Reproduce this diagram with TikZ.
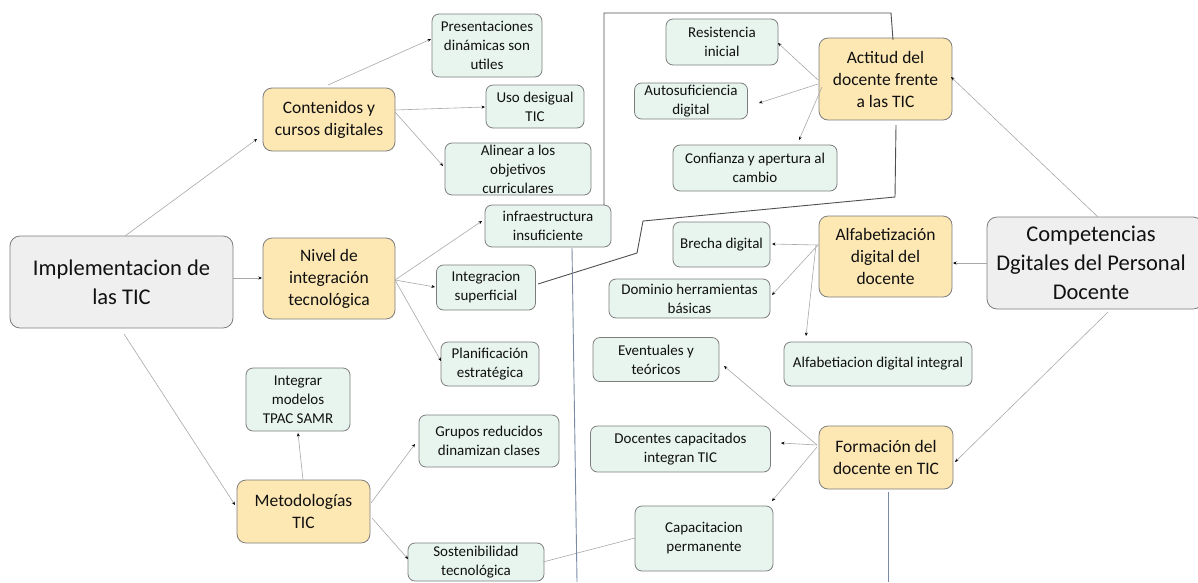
\documentclass[tikz,border=0pt]{standalone}
\usepackage{fontspec}
\setmainfont{Carlito}
\usetikzlibrary{arrows.meta,calc}
\definecolor{orfill}{HTML}{FDE7B3}
\definecolor{grfill}{HTML}{E7F5EE}
\definecolor{gyfill}{HTML}{EFEFEF}
\definecolor{bord}{HTML}{7D7D7D}
\definecolor{conn}{HTML}{A8A8A8}
\definecolor{darkconn}{HTML}{505050}
\definecolor{blueconn}{HTML}{7A8AA5}
\definecolor{txt}{HTML}{111111}
\begin{document}
\begin{tikzpicture}[x=1pt,y=-1pt,
  box/.style={draw=bord,line width=0.8pt,rounded corners=7pt,align=center,text=txt,inner sep=1pt},
  mainbox/.style={box,fill=gyfill,rounded corners=10pt,font=\fontsize{22.5}{29}\selectfont},
  catbox/.style={box,fill=orfill,rounded corners=9pt,font=\fontsize{17.5}{22}\selectfont},
  leafbox/.style={box,fill=grfill,font=\fontsize{15}{19}\selectfont},
  arr/.style={draw=conn,line width=0.6pt,-{Stealth[length=3.5pt,width=3pt,color=black]}},
  plain/.style={draw=conn,line width=0.6pt},
  frame/.style={draw=darkconn,line width=0.9pt},
  vline/.style={draw=blueconn,line width=0.9pt}]
\useasboundingbox (0,0) rectangle (1198,582);
% main nodes
\node[mainbox,minimum width=223,minimum height=92] (impl) at (121.5,282) {Implementacion de\\las TIC};
\node[mainbox,minimum width=216,minimum height=92] (comp) at (1095,263) {\hspace*{-8pt}Competencias\\\hspace*{-8pt}Dgitales del Personal\\\hspace*{-8pt}Docente};
% category nodes
\node[catbox,minimum width=132,minimum height=63] (cont) at (329,119.5) {Contenidos y\\cursos digitales};
\node[catbox,minimum width=132,minimum height=81] (nivel) at (329,278.5) {Nivel de\\integración\\tecnológica};
\node[catbox,minimum width=133,minimum height=63] (metod) at (303.5,511.5) {Metodologías\\TIC};
\node[catbox,minimum width=133,minimum height=82] (actitud) at (885.5,79) {Actitud del\\docente frente\\a las TIC};
\node[catbox,minimum width=133,minimum height=81] (alfab) at (885.5,256.5) {Alfabetización\\digital del\\docente};
\node[catbox,minimum width=134,minimum height=63] (form) at (886,457.5) {Formación del\\docente en TIC};
% leaf nodes
\node[leafbox,minimum width=104,minimum height=63] (integ) at (298,399.5) {Integrar\\modelos\\TPAC SAMR};
\node[leafbox,minimum width=110,minimum height=63] (pres) at (487,45.5) {Presentaciones\\dinámicas son\\utiles};
\node[leafbox,minimum width=98,minimum height=43] (uso) at (535,106.5) {Uso desigual\\TIC};
\node[leafbox,minimum width=146,minimum height=52] (alin) at (518,169) {Alinear a los\\objetivos\\curriculares};
\node[leafbox,minimum width=126,minimum height=42] (infra) at (548,226) {infraestructura\\insuficiente};
\node[leafbox,minimum width=99,minimum height=45] (isup) at (486,287.5) {Integracion\\superficial};
\node[leafbox,minimum width=98,minimum height=44] (plan) at (490,364) {Planificación\\estratégica};
\node[leafbox,minimum width=140,minimum height=52] (grup) at (489,441) {Grupos reducidos\\dinamizan clases};
\node[leafbox,minimum width=136,minimum height=38] (sost) at (476,562) {Sostenibilidad\\tecnológica};
\node[leafbox,minimum width=138,minimum height=65] (capac) at (704,538.5) {Capacitacion\\permanente};
\node[leafbox,minimum width=180,minimum height=46] (doc) at (680.5,449) {Docentes capacitados\\integran TIC};
\node[leafbox,minimum width=126,minimum height=44] (event) at (656,359.5) {Eventuales y\\teóricos};
\node[leafbox,minimum width=161,minimum height=39] (dom) at (689.5,298.5) {Dominio herramientas\\básicas};
\node[leafbox,minimum width=97,minimum height=45] (brecha) at (721.5,244.5) {Brecha digital};
\node[leafbox,minimum width=112,minimum height=46] (resis) at (722,42) {Resistencia\\inicial};
\node[leafbox,minimum width=113,minimum height=36] (auto) at (691,101) {Autosuficiencia\\digital};
\node[leafbox,minimum width=164,minimum height=46] (conf) at (755,168) {Confianza y apertura al\\cambio};
\node[leafbox,minimum width=188,minimum height=44] (alfint) at (878,364) {Alfabetiacion digital integral};
% free ends
\coordinate (infraend) at (577,582);
\coordinate (formend) at (888,582);
% connectors
\draw[arr] ($(impl)+(3.5,-46)$) -- ($(cont)+(-72,19.5)$);
\draw[arr] ($(impl)+(111.5,-4)$) -- ($(nivel)+(-67,-0.5)$);
\draw[arr] ($(impl)+(2.5,52)$) -- ($(metod)+(-68.5,-6.5)$);
\draw[arr] ($(cont)+(-1,-34.5)$) -- ($(pres)+(-56,-6.5)$);
\draw[arr] ($(cont)+(66,-9.5)$) -- ($(uso)+(-50,0.5)$);
\draw[arr] ($(cont)+(66,-7.5)$) -- ($(alin)+(-75,-3)$);
\draw[arr] ($(nivel)+(66,1.5)$) -- ($(infra)+(-66,-5)$);
\draw[arr] ($(nivel)+(66,1.5)$) -- ($(isup)+(-51,-0.5)$);
\draw[arr] ($(nivel)+(66,1.5)$) -- ($(plan)+(-49,-3)$);
\draw[arr] ($(metod)+(-0.5,-31.5)$) -- ($(integ)+(0,33.5)$);
\draw[arr] ($(metod)+(67.5,-8.5)$) -- ($(grup)+(-74,3)$);
\draw[arr] ($(metod)+(68.5,6.5)$) -- ($(sost)+(-68,-3)$);
\draw[plain] ($(sost)+(67,0)$) -- ($(capac)+(-69,-0.5)$);
\draw[frame] ($(isup)+(52,-3.5)$) -- (637,253) -- (643,221) -- (895,197) -- ($(actitud)+(10.5,46)$);
\draw[frame] ($(infra)+(56,-21)$) -- (604,13) -- (891,13) -- ($(actitud)+(7.5,-39)$);
\draw[vline] ($(infra)+(24,22)$) -- (infraend);
\draw[vline] ($(form)+(2,34.5)$) -- (formend);
\draw[arr] ($(actitud)+(-67.5,1)$) -- ($(resis)+(56,1)$);
\draw[arr] ($(actitud)+(-67.5,5)$) -- ($(auto)+(68,2)$);
\draw[arr] ($(actitud)+(-63.5,8)$) -- ($(conf)+(44,-28)$);
\draw[arr] ($(comp)+(3,-46)$) -- ($(actitud)+(65.5,-2)$);
\draw[arr] ($(comp)+(-108,0)$) -- ($(alfab)+(67.5,6.5)$);
\draw[arr] ($(comp)+(13,49)$) -- ($(form)+(69,4.5)$);
\draw[arr] ($(alfab)+(-67.5,-11.5)$) -- ($(brecha)+(50.5,-0.5)$);
\draw[arr] ($(alfab)+(-67.5,-11.5)$) -- ($(dom)+(82.5,-3.5)$);
\draw[arr] ($(alfab)+(-69.5,-11.5)$) -- ($(alfint)+(-72,-28)$);
\draw[arr] ($(form)+(-69,-12.5)$) -- ($(event)+(68,6.5)$);
\draw[arr] ($(form)+(-69,-12.5)$) -- ($(doc)+(100.5,-6)$);
\draw[arr] ($(form)+(-69,-10.5)$) -- ($(capac)+(68,-37.5)$);
\end{tikzpicture}
\end{document}
